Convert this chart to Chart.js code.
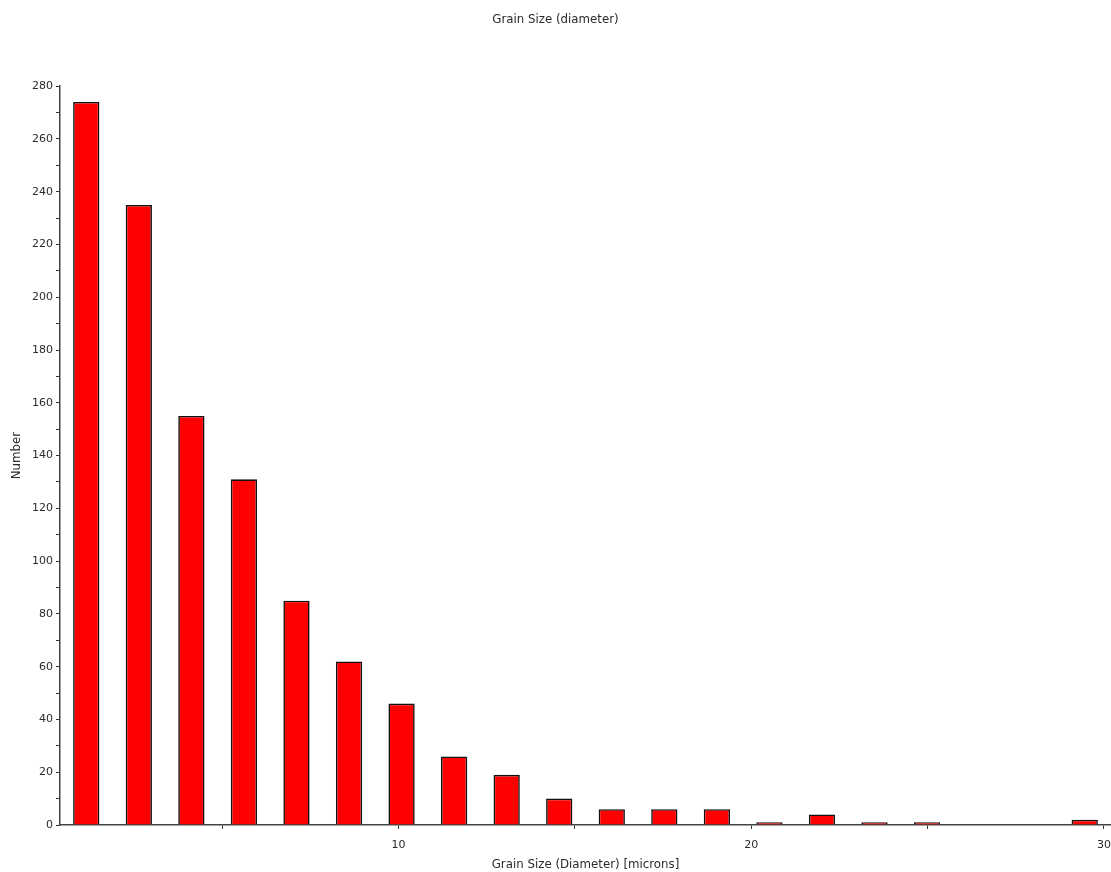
<!DOCTYPE html>
<html>
<head>
<meta charset="utf-8">
<title>Grain Size (diameter)</title>
<script src="https://cdn.jsdelivr.net/npm/chart.js@4"></script>
<style>
  html, body { margin: 0; padding: 0; background: #fff; }
  #wrap { width: 1111px; height: 872px; position: relative; }
</style>
</head>
<body>
<div id="wrap"><canvas id="chart"></canvas></div>
<script>
// histogram bins: centres of each diameter class (microns) and the counts
const binCentres = [1.145, 2.635, 4.125, 5.615, 7.105, 8.595, 10.085, 11.575, 13.065, 14.555,
                    16.045, 17.535, 19.025, 20.515, 22.005, 23.495, 24.985, 26.475, 27.965, 29.455];
const counts = [274, 235, 155, 131, 85, 62, 46, 26, 19, 10,
                6, 6, 6, 1, 4, 1, 1, 0, 0, 2];
const xTicks = [5, 10, 15, 20, 25, 30];
const xLabelled = [10, 20, 30];

const textColor = '#2b2b2b';
const tickFont = { family: 'DejaVu Sans', size: 11, weight: 'normal' };
const titleFont = { family: 'DejaVu Sans', size: 11.8, weight: 'normal' };

const ctx = document.getElementById('chart').getContext('2d');

const chart = new Chart(ctx, {
  type: 'bar',
  data: {
    datasets: [{
      label: 'Number',
      data: binCentres.map((x, i) => ({ x: x, y: counts[i] })),
      backgroundColor: '#ff0000',
      borderColor: '#111',
      borderWidth: 1.6,
      borderSkipped: 'start',
      barPercentage: 0.5,
      categoryPercentage: 1
    }]
  },
  options: {
    responsive: true,
    maintainAspectRatio: false,
    animation: false,
    layout: { padding: 0 },
    plugins: {
      legend: { display: false },
      tooltip: { enabled: false },
      title: {
        display: true,
        text: 'Grain Size (diameter)',
        color: textColor,
        font: titleFont,
        padding: { top: 13, bottom: 59 }
      }
    },
    scales: {
      x: {
        type: 'linear',
        offset: false,
        bounds: 'data',
        min: 0.4,
        max: 30.2,
        afterBuildTicks: (scale) => {
          scale.ticks = xTicks.map(v => ({ value: v }));
        },
        afterFit: (scale) => {
          scale.height = 47;
          scale.paddingLeft = 0;
          scale.paddingRight = 0;
        },
        ticks: {
          color: textColor,
          font: tickFont,
          padding: 10,
          maxRotation: 0,
          autoSkip: false,
          callback: (v) => xLabelled.includes(v) ? String(v) : ''
        },
        grid: {
          offset: false,
          drawOnChartArea: false,
          drawTicks: true,
          tickLength: 4,
          color: '#333'
        },
        border: { display: true, color: '#444', width: 1.5 },
        title: {
          display: true,
          text: 'Grain Size (Diameter) [microns]',
          color: textColor,
          font: titleFont,
          padding: { top: 0, bottom: 0 }
        }
      },
      y: {
        min: 0,
        max: 280,
        afterFit: (scale) => { scale.width = 60; },
        ticks: {
          stepSize: 10,
          color: textColor,
          font: tickFont,
          padding: 3,
          callback: (v) => v % 20 === 0 ? String(v) : ''
        },
        grid: {
          drawOnChartArea: false,
          drawTicks: true,
          tickLength: 4,
          color: '#333'
        },
        border: { display: true, color: '#444', width: 1.5 },
        title: {
          display: true,
          text: 'Number',
          color: textColor,
          font: titleFont,
          padding: { top: 10, bottom: 0 }
        }
      }
    }
  }
});
</script>
</body>
</html>
